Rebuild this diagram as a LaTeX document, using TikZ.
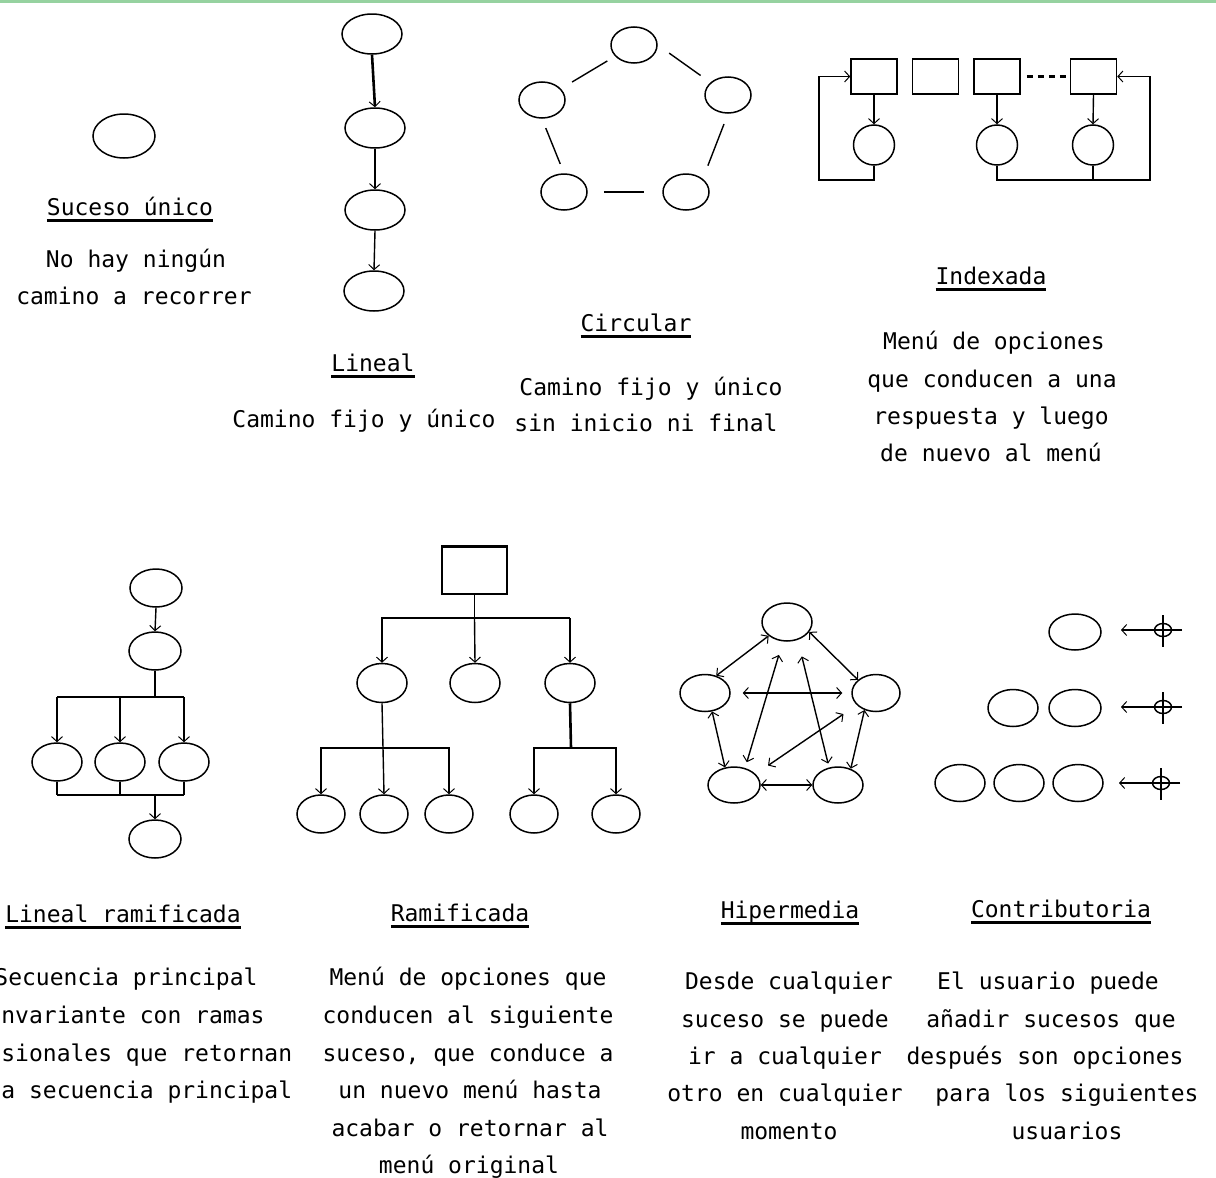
\documentclass[tikz,border=0pt]{standalone}
\usepackage{fontspec}
\newfontfamily\pix{DejaVu Sans Mono}
\usetikzlibrary{shapes.geometric,arrows.meta}
\definecolor{topgreen}{RGB}{150,210,160}
\newcommand\ulin[1]{\setbox0=\hbox{#1}\rlap{\vrule width\wd0 height -4pt depth 6.8pt}\box0}
\tikzset{
  ev/.style 2 args={ellipse,draw,line width=1.5pt,inner sep=0pt,minimum width=#1,minimum height=#2},
  bx/.style 2 args={rectangle,draw,line width=1.5pt,inner sep=0pt,minimum width=#1,minimum height=#2},
  ln/.style={line width=1.4pt},
  tk/.style={line width=2.6pt},
  tip/.tip={Straight Barb[length=5pt,width=11pt,line width=1pt]},
  arr/.style={ln,-tip},
  darr/.style={ln,tip-tip},
  txt/.style={font=\pix\fontsize{23}{28}\selectfont,inner sep=0pt,anchor=base},
  cross/.style={ellipse,draw,line width=1.5pt,inner sep=0pt,minimum width=17pt,minimum height=13pt}
}
\begin{document}
\begin{tikzpicture}[x=1pt,y=-1pt]
\useasboundingbox (0,0) rectangle (1216,1178);
\clip (0,0) rectangle (1216,1178);
\fill[white] (0,0) rectangle (1216,1178);
\fill[topgreen] (0,0) rectangle (1216,2.5);

% ---------- Suceso unico
\node[ev={62pt}{44pt}] (su) at (124,136) {};
\node[txt] (su-t) at (130,215) {\ulin{Suceso único}};
\node[txt] (su-1) at (136,267) {No hay ningún};
\node[txt] (su-2) at (134,304) {camino a recorrer};

% ---------- Lineal
\node[ev={60pt}{40pt}] (l1) at (372,34) {};
\node[ev={60pt}{40pt}] (l2) at (375,128) {};
\node[ev={60pt}{40pt}] (l3) at (375,210) {};
\node[ev={60pt}{40pt}] (l4) at (374,291) {};
\draw[arr,tk] (l1.south) -- (l2.north);
\draw[arr] (l2.south) -- (l3.north);
\draw[arr] (l3.south) -- (l4.north);
\node[txt] (li-t) at (373,371) {\ulin{Lineal}};
\node[txt] (li-1) at (364,427) {Camino fijo y único};

% ---------- Circular
\node[ev={46pt}{36pt}] (ct) at (634,45) {};
\node[ev={46pt}{36pt}] (cl) at (542,100) {};
\node[ev={46pt}{36pt}] (cr) at (728,95) {};
\node[ev={46pt}{36pt}] (cbl) at (564,192) {};
\node[ev={46pt}{36pt}] (cbr) at (686,192) {};
\draw[ln,shorten <=13pt,shorten >=9pt] (cl) -- (ct);
\draw[ln,shorten <=14pt,shorten >=12pt] (ct.east) -- (cr);
\draw[ln,shorten <=10pt,shorten >=10pt] (cl.south) -- (cbl.north);
\draw[ln,shorten <=11pt,shorten >=14pt] (cr.south) -- (cbr.north east);
\draw[ln,shorten <=16pt,shorten >=18pt] (cbl.east) -- (cbr.west);
\node[txt] (ci-t) at (636,331) {\ulin{Circular}};
\node[txt] (ci-1) at (651,395) {Camino fijo y único};
\node[txt] (ci-2) at (646,431) {sin inicio ni final};

% ---------- Indexada
\node[bx={46pt}{35pt}] (x1) at (874,76.5) {};
\node[bx={46pt}{35pt}] (x2) at (935.5,76.5) {};
\node[bx={46pt}{35pt}] (x3) at (997,76.5) {};
\node[bx={46pt}{35pt}] (x4) at (1093.5,76.5) {};
\node[ev={41pt}{40pt}] (i1) at (874,145) {};
\node[ev={41pt}{40pt}] (i2) at (997,145) {};
\node[ev={41pt}{40pt}] (i3) at (1093,145) {};
\draw[line width=2.4pt,dash pattern=on 6pt off 5pt] (x3.east) ++(6,0) -- (x4.west);
\draw[arr,tk] (x1.south) -- (i1.north);
\draw[arr] (x3.south) -- (i2.north);
\draw[arr] (x4.south) -- (i3.north);
\coordinate (lc) at (819,180);
\coordinate (rc) at (1150,180);
\draw[arr] (i1.south) |- (lc) |- (x1.west);
\draw[arr] (i2.south) |- (rc) |- (x4.east);
\draw[ln] (i3.south) -- (i3.south |- rc);
\node[txt] (ix-t) at (991,284) {\ulin{Indexada}};
\node[txt] (ix-1) at (994,349) {Menú de opciones};
\node[txt] (ix-2) at (992,387) {que conducen a una};
\node[txt] (ix-3) at (991,424) {respuesta y luego};
\node[txt] (ix-4) at (991,461) {de nuevo al menú};

% ---------- Lineal ramificada
\node[ev={52pt}{38pt}] (r1) at (156,588) {};
\node[ev={52pt}{38pt}] (r2) at (155,651) {};
\node[ev={50pt}{38pt}] (r3) at (57,762) {};
\node[ev={50pt}{38pt}] (r4) at (120,762) {};
\node[ev={50pt}{38pt}] (r5) at (184,762) {};
\node[ev={52pt}{38pt}] (r6) at (155,839) {};
\coordinate (ra) at (155,697);
\coordinate (rb) at (155,795);
\draw[arr] (r1.south) -- (r2.north);
\draw[ln] (r2.south) -- (ra);
\draw[ln] (r3.north |- ra) -- (r5.north |- ra);
\draw[arr,line width=2.2pt] (r3.north |- ra) -- (r3.north);
\draw[arr,line width=2.2pt] (r5.north |- ra) -- (r5.north);
\draw[arr] (r4.north |- ra) -- (r4.north);
\draw[ln] (r3.south |- rb) -- (r5.south |- rb);
\draw[line width=2.2pt] (r3.south) -- (r3.south |- rb);
\draw[line width=2.2pt] (r5.south) -- (r5.south |- rb);
\draw[ln] (r4.south) -- (r4.south |- rb);
\draw[arr] (rb) -- (r6.north);
\node[txt] (lr-t) at (123,922) {\ulin{Lineal ramificada}};
\node[txt] (lr-1) at (126,985) {Secuencia principal};
\node[txt] (lr-2) at (126,1023) {invariante con ramas};
\node[txt] (lr-3) at (126,1061) {ocasionales que retornan};
\node[txt] (lr-4) at (126,1098) {a la secuencia principal};

% ---------- Ramificada
\node[bx={65pt}{47pt}] (mb) at (474.5,570.5) {};
\draw[line width=3pt] (mb.north west) -- (mb.north east);
\node[ev={50pt}{39pt}] (m1) at (382,683) {};
\node[ev={50pt}{39pt}] (m2) at (475,683) {};
\node[ev={50pt}{39pt}] (m3) at (570,683) {};
\node[ev={48pt}{38pt}] (b1) at (321,814) {};
\node[ev={48pt}{38pt}] (b2) at (384,814) {};
\node[ev={48pt}{38pt}] (b3) at (449,814) {};
\node[ev={48pt}{38pt}] (b4) at (534,814) {};
\node[ev={48pt}{38pt}] (b5) at (616,814) {};
\coordinate (ma) at (474.5,618);
\coordinate (mc) at (383,748);
\coordinate (md) at (571,748);
\draw[ln] (mb.south) -- (ma);
\draw[arr] (ma) -| (m1.north);
\draw[arr] (ma) -- (m2.north);
\draw[ln] (ma) -- (m3.north |- ma);
\draw[arr,line width=2.4pt] (m3.north |- ma) -- (m3.north);
\draw[ln] (m1.south) -- (mc);
\draw[arr] (mc) -| (b1.north);
\draw[arr] (mc) -- (b2.north);
\draw[arr] (mc) -| (b3.north);
\draw[tk] (m3.south) -- (md);
\draw[arr] (md) -| (b4.north);
\draw[arr] (md) -| (b5.north);
\node[txt] (ra-t) at (460,921) {\ulin{Ramificada}};
\node[txt] (ra-1) at (468,985) {Menú de opciones que};
\node[txt] (ra-2) at (468,1023) {conducen al siguiente};
\node[txt] (ra-3) at (468,1061) {suceso, que conduce a};
\node[txt] (ra-4) at (470,1098) {un nuevo menú hasta};
\node[txt] (ra-5) at (470,1136) {acabar o retornar al};
\node[txt] (ra-6) at (469,1173) {menú original};

% ---------- Hipermedia
\node[ev={50pt}{38pt}] (ht) at (787,622) {};
\node[ev={50pt}{37pt}] (hl) at (705,693) {};
\node[ev={48pt}{37pt}] (hr) at (876,693) {};
\node[ev={52pt}{36pt}] (hbl) at (734,785) {};
\node[ev={50pt}{36pt}] (hbr) at (838,785) {};
\draw[darr] (ht.217) -- (hl.57);
\draw[darr] (ht.-24) -- (hr.144);
\draw[darr] (hl.-69) -- (hbl.117);
\draw[darr] (hr.236) -- (hbr.52);
\draw[darr] (hbl.east) -- (hbr.west);
\draw[darr,shorten <=12pt,shorten >=9pt] (hl.east) -- (hr.west);
\draw[darr,shorten <=6pt,shorten >=14pt] (hbl.57) -- (ht.-102);
\draw[darr,shorten <=4pt,shorten >=17pt] (hbr.117) -- (ht.-59);
\draw[darr,shorten <=16pt,shorten >=15pt] (hr.212) -- (hbl.27);
\node[txt] (hi-t) at (790,918) {\ulin{Hipermedia}};
\node[txt] (hi-1) at (789,989) {Desde cualquier};
\node[txt] (hi-2) at (785,1027) {suceso se puede};
\node[txt] (hi-3) at (785,1064) {ir a cualquier};
\node[txt] (hi-4) at (785,1101) {otro en cualquier};
\node[txt] (hi-5) at (789,1139) {momento};

% ---------- Contributoria
\node[ev={52pt}{36pt}] (c11) at (1075,632) {};
\node[ev={50pt}{37pt}] (c21) at (1013,708) {};
\node[ev={52pt}{37pt}] (c22) at (1075,708) {};
\node[ev={50pt}{37pt}] (c31) at (960,783) {};
\node[ev={50pt}{37pt}] (c32) at (1019,783) {};
\node[ev={50pt}{37pt}] (c33) at (1078,783) {};
\node[cross] (k1) at (1163,630) {};
\node[cross] (k2) at (1163,707) {};
\node[cross] (k3) at (1161,783) {};
\coordinate (ke1) at (1182,630);
\coordinate (ke2) at (1182,707);
\coordinate (ke3) at (1180,783);
\coordinate (ka1) at (1121,630);
\coordinate (ka2) at (1121,707);
\coordinate (ka3) at (1119,783);
\draw[arr,line width=2pt] (ke1) -- (ka1);
\draw[arr] (ke2) -- (ka2);
\draw[arr,line width=2pt] (ke3) -- (ka3);
\draw[ln] (k1.center) ++(0,-15) -- ++(0,32);
\draw[ln] (k2.center) ++(0,-15) -- ++(0,32);
\draw[ln] (k3.center) ++(0,-15) -- ++(0,32);
\node[txt] (co-t) at (1061,917) {\ulin{Contributoria}};
\node[txt] (co-1) at (1048,989) {El usuario puede};
\node[txt] (co-2) at (1051,1027) {añadir sucesos que};
\node[txt] (co-3) at (1045,1064) {después son opciones};
\node[txt] (co-4) at (1067,1101) {para los siguientes};
\node[txt] (co-5) at (1067,1139) {usuarios};
\end{tikzpicture}
\end{document}
